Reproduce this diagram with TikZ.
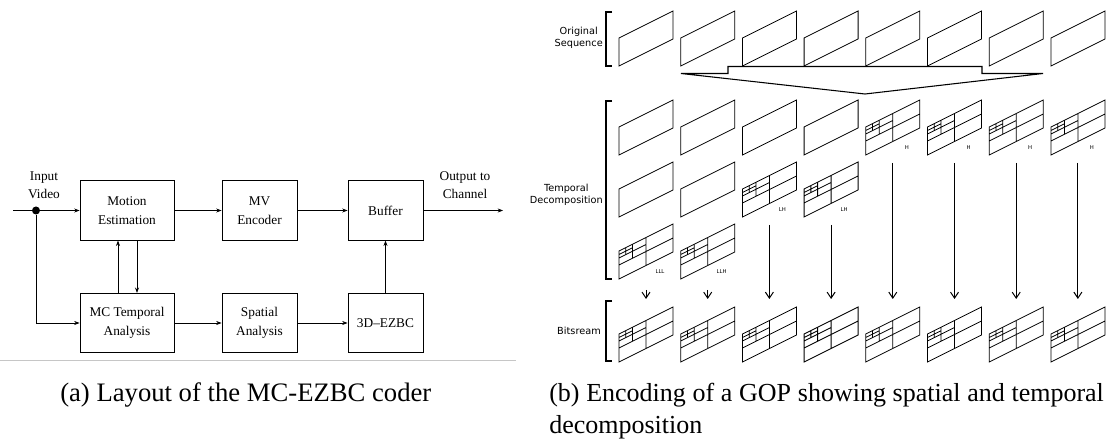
\documentclass[tikz,border=0pt]{standalone}
\usepackage{fontspec}
\setmainfont{Liberation Serif}
\newfontfamily\dvs{DejaVu Sans}
\usetikzlibrary{arrows.meta}
\tikzset{
  blk/.style={draw, line width=0.7pt, minimum height=44.5pt, inner sep=1pt, align=center,
    font=\fontsize{10}{14}\selectfont},
  wideblk/.style={blk, minimum width=70.5pt},
  narrowblk/.style={blk, minimum width=56.25pt},
  arr/.style={line width=0.45pt, -{Stealth[length=4pt,width=3pt]}},
  frm/.style={line width=0.6pt, line join=miter},
  varr/.style={line width=0.75pt, -{Straight Barb[length=4.5pt,width=6pt]}},
  brk/.style={line width=0.8pt},
  sidelbl/.style={anchor=east, align=center, inner sep=0pt, font=\dvs\fontsize{7.3}{9}\selectfont},
  tinylbl/.style={inner sep=0pt, font=\dvs\fontsize{4}{5}\selectfont},
  captext/.style={inner sep=0pt, anchor=base west, font=\fontsize{19.5}{24}\selectfont},
  plainf/.pic={\draw[frm] (0,0) -- (54,-27) -- (54,-55) -- (0,-28) -- cycle;},
  subf/.pic={\draw[frm] (0,0) -- (54,-27) -- (54,-55) -- (0,-28) -- cycle
     (27,-13.5) -- (27,-41.5)
     (0,-14) -- (54,-41)
     (13.5,-20.75) -- (13.5,-34.75)
     (0,-21) -- (27,-34.5)
     (6.75,-24.375) -- (6.75,-31.375)
     (0,-24.5) -- (13.5,-31.25);},
}
\begin{document}
\begin{tikzpicture}[x=0.75pt,y=-0.75pt]
\useasboundingbox (0,0) rectangle (1110,441);

% ---------------- left diagram ----------------
\node[wideblk]   (me)  at (127,210.5) {Motion\\Estimation};
\node[narrowblk] (mv)  at (259.5,210.5) {MV\\Encoder};
\node[narrowblk] (buf) at (385.5,210.5) {Buffer};
\node[wideblk]   (mc)  at (127,323) {MC Temporal\\Analysis};
\node[narrowblk] (sa)  at (259.5,323) {Spatial\\Analysis};
\node[narrowblk] (ez)  at (385.5,323) {3D--EZBC};

\coordinate (in) at (13,210.5);
\node[circle, fill, inner sep=0pt, minimum size=6pt] (dot) at (36,210.5) {};
\coordinate (out) at (503,210.5);
\node[align=center, inner sep=0pt, font=\fontsize{10}{13.5}\selectfont] (inlbl) at (44,185) {Input\\Video};
\node[align=center, inner sep=0pt, font=\fontsize{10}{13.5}\selectfont] (outlbl) at (465,185) {Output to\\Channel};

\draw[line width=0.45pt] (in) -- (dot);
\draw[arr] (dot) -- (me);
\draw[arr] (dot) |- (mc);
\draw[arr] (me) -- (mv);
\draw[arr] (mv) -- (buf);
\draw[arr] (buf) -- (out);
\draw[arr] (mc) -- (sa);
\draw[arr] (sa) -- (ez);
\draw[arr] (ez) -- (buf);
\draw[arr] ([xshift=-6.75pt]mc.north) -- ([xshift=-6.75pt]me.south);
\draw[arr] ([xshift=7.5pt]me.south) -- ([xshift=7.5pt]mc.north);

\draw[gray!45, line width=0.5pt] (0,360) -- (516,360);

% ---------------- right diagram ----------------
\node[sidelbl] (los) at (603,38) {Original\\Sequence};
\node[sidelbl] (ltd) at (603,195) {Temporal\\Decomposition};
\node[sidelbl] (lbs) at (601,331) {Bitsream};

\draw[brk] (612,12) -- (606,12) -- (606,66) -- (612,66);
\draw[brk] (612,101) -- (606,101) -- (606,279) -- (612,279);
\draw[brk] (612,301) -- (606,301) -- (606,361) -- (612,361);

\draw[line width=0.8pt, line join=miter] (681,73.5) -- (728,73.5) -- (728,66.5) -- (982,66.5)
  -- (982,73.5) -- (1043,73.5) -- (865,94) -- cycle;

\foreach \c in {0,...,7}{
  \pgfmathsetmacro{\fx}{619+61.7*\c}
  \pic at (\fx,66) {plainf};
  \pic at (\fx,362) {subf};
  \coordinate (e\c) at (\fx+27,299);
}
\foreach \c in {0,...,3}{
  \pgfmathsetmacro{\fx}{619+61.7*\c}
  \pic at (\fx,155) {plainf};
}
\foreach \c in {4,...,7}{
  \pgfmathsetmacro{\fx}{619+61.7*\c}
  \pic at (\fx,155) {subf};
  \node[tinylbl] (h\c) at (\fx+41,148) {H};
  \coordinate (s\c) at (\fx+27,163);
}
\foreach \c in {0,1}{
  \pgfmathsetmacro{\fx}{619+61.7*\c}
  \pic at (\fx,217) {plainf};
  \pic at (\fx,279) {subf};
  \coordinate (s\c) at (\fx+27,290);
}
\foreach \c in {2,3}{
  \pgfmathsetmacro{\fx}{619+61.7*\c}
  \pic at (\fx,217) {subf};
  \node[tinylbl] (lh\c) at (\fx+40,210) {LH};
  \coordinate (s\c) at (\fx+27,225);
}
\node[tinylbl] (lll) at (660,272) {LLL};
\node[tinylbl] (llh) at (721.7,272) {LLH};

\foreach \c in {0,...,7}{
  \draw[varr] (s\c) -- (e\c);
}

% ---------------- captions ----------------
\node[captext, font=\fontsize{20}{24}\selectfont] (capa) at (60,402) {(a) Layout of the MC-EZBC coder};
\node[captext] (capb) at (549,402) {\makebox[416pt][s]{(b) Encoding of a GOP showing spatial and temporal}};
\node[captext] (capc) at (549,434) {decomposition};
\end{tikzpicture}
\end{document}
